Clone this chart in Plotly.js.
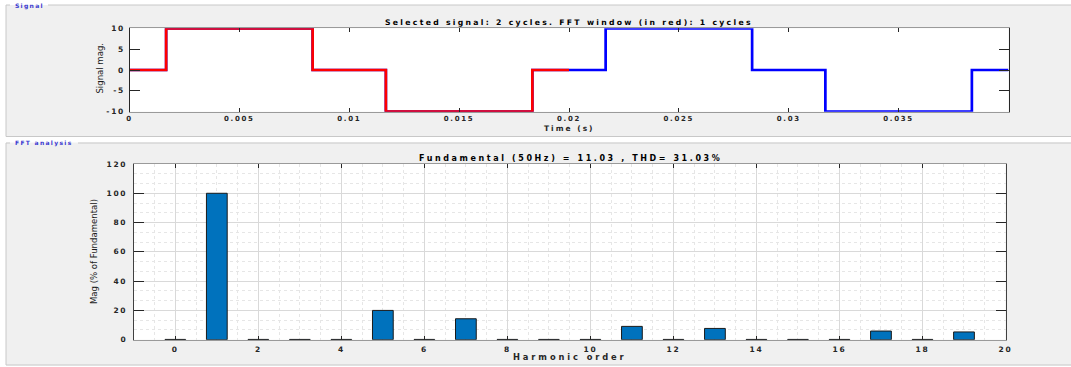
<!DOCTYPE html>
<html>
<head>
<meta charset="utf-8">
<script src="https://cdn.plot.ly/plotly-3.0.1.min.js"></script>
<style>
  html, body { margin: 0; padding: 0; background: #ffffff; }
  #chart { width: 1071px; height: 367px; }
  .xtick text, .ytick text, .x2tick text, .y2tick text { letter-spacing: 1.7px; }
</style>
</head>
<body>
<div id="chart"></div>
<script>
// ---- Signal (time domain) ----
const signalTime  = [0, 0.001667, 0.008333, 0.011667, 0.018333, 0.021667, 0.028333, 0.031667, 0.038333, 0.04];
const signalValue = [0, 10, 0, -10, 0, 10, 0, -10, 0, 0];
const fftWindowEnd = 0.02;

const timeTickVals = [0, 0.005, 0.01, 0.015, 0.02, 0.025, 0.03, 0.035];
const timeTickText = ['0', '0.005', '0.01', '0.015', '0.02', '0.025', '0.03', '0.035'];
const sigTickVals  = [-10, -5, 0, 5, 10];
const sigTickText  = ['-10', '-5', '0', '5', '10'];

// ---- FFT analysis ----
const harmonicOrder = [0, 1, 2, 3, 4, 5, 6, 7, 8, 9, 10, 11, 12, 13, 14, 15, 16, 17, 18, 19];
const harmonicMag   = [0.2, 100, 0.2, 0.2, 0.2, 20, 0.2, 14.3, 0.2, 0.2, 0.2, 9.1, 0.2, 7.7, 0.2, 0.2, 0.2, 5.9, 0.2, 5.3];
const harmTickVals  = [0, 2, 4, 6, 8, 10, 12, 14, 16, 18, 20];
const magTickVals   = [0, 20, 40, 60, 80, 100, 120];

const titleTop    = 'Selected signal: 2 cycles. FFT window (in red): 1 cycles';
const titleBottom = 'Fundamental (50Hz) = 11.03 , THD= 31.03%';

// red window = part of the signal up to fftWindowEnd
const winT = [], winV = [];
for (let i = 0; i < signalTime.length; i++) {
  if (signalTime[i] < fftWindowEnd) { winT.push(signalTime[i]); winV.push(signalValue[i]); }
}
winT.push(fftWindowEnd); winV.push(winV[winV.length - 1]);

const W = 1071, H = 367;
const px = v => v / W;
const py = v => 1 - v / H;

const tickFont = { family: 'DejaVu Sans, sans-serif', size: 7.5, weight: 'bold', color: '#262626' };
const topXTickFont = { family: 'DejaVu Sans, sans-serif', size: 7, weight: 'bold', color: '#262626' };
const narrowFont = { family: 'Liberation Sans Narrow, DejaVu Sans Condensed, Arial Narrow, sans-serif', size: 9.5, color: '#1a1a1a' };

const traces = [
  { type: 'scatter', mode: 'lines', x: signalTime, y: signalValue, line: { color: '#0000FF', width: 2.7, shape: 'hv' },
    xaxis: 'x', yaxis: 'y', hoverinfo: 'skip' },
  { type: 'scatter', mode: 'lines', x: winT, y: winV, line: { color: '#FF0000', width: 2.7, shape: 'hv' },
    xaxis: 'x', yaxis: 'y', hoverinfo: 'skip' },
  { type: 'bar', x: harmonicOrder, y: harmonicMag, width: 0.5,
    marker: { color: '#0072BD', line: { color: '#1a1a1a', width: 1 } },
    xaxis: 'x2', yaxis: 'y2', hoverinfo: 'skip' }
];

const gridMajor = '#D9D9D9';
const layout = {
  width: W, height: H,
  margin: { l: 0, r: 0, t: 0, b: 0 },
  paper_bgcolor: '#F0F0F0',
  plot_bgcolor: '#FFFFFF',
  showlegend: false,
  xaxis: {
    domain: [px(129.5), px(1008.5)], anchor: 'y', range: [0, 0.04],
    tickvals: timeTickVals, ticktext: timeTickText,
    ticks: 'inside', ticklen: 4, tickcolor: '#262626', tickwidth: 1,
    showline: true, linecolor: '#9A9A9A', linewidth: 1, mirror: 'ticks',
    showgrid: false, zeroline: false, tickfont: topXTickFont, ticklabelstandoff: 0
  },
  yaxis: {
    domain: [py(111.7), py(28.3)], anchor: 'x', range: [-10, 10],
    tickvals: sigTickVals, ticktext: sigTickText,
    ticks: 'inside', ticklen: 10, tickcolor: '#262626', tickwidth: 1,
    showline: true, linecolor: '#262626', linewidth: 1, mirror: 'ticks',
    showgrid: false, zeroline: false, tickfont: tickFont, ticklabelstandoff: 2
  },
  xaxis2: {
    domain: [px(133.8), px(1005.5)], anchor: 'y2', range: [-1, 20],
    tickvals: harmTickVals,
    ticks: 'inside', ticklen: 4, tickcolor: '#262626', tickwidth: 1,
    showline: true, linecolor: '#9A9A9A', linewidth: 1, mirror: 'ticks',
    showgrid: true, gridcolor: gridMajor, gridwidth: 1, zeroline: false,
    minor: { dtick: 0.5, tick0: 0, showgrid: true, gridcolor: '#E6E6E6', griddash: 'dot', gridwidth: 1 },
    tickfont: tickFont, ticklabelstandoff: 2
  },
  yaxis2: {
    domain: [py(339.7), py(164)], anchor: 'x2', range: [0, 120],
    tickvals: magTickVals,
    ticks: 'inside', ticklen: 10, tickcolor: '#262626', tickwidth: 1,
    showline: true, linecolor: '#404040', linewidth: 1, mirror: 'ticks',
    showgrid: true, gridcolor: gridMajor, gridwidth: 1, zeroline: false,
    minor: { dtick: 20 / 3, tick0: 0, showgrid: true, gridcolor: '#E6E6E6', griddash: 'dot', gridwidth: 1 },
    tickfont: tickFont, ticklabelstandoff: 4
  },
  shapes: [
    // white surroundings of the panels
    { type: 'rect', xref: 'paper', yref: 'paper', x0: 0, x1: px(6), y0: 0, y1: 1, fillcolor: '#FFFFFF', line: { width: 0 }, layer: 'below' },
    { type: 'rect', xref: 'paper', yref: 'paper', x0: 0, x1: 1, y0: py(5), y1: 1, fillcolor: '#FFFFFF', line: { width: 0 }, layer: 'below' },
    { type: 'rect', xref: 'paper', yref: 'paper', x0: 0, x1: 1, y0: py(142.5), y1: py(137), fillcolor: '#FFFFFF', line: { width: 0 }, layer: 'below' },
    { type: 'rect', xref: 'paper', yref: 'paper', x0: 0, x1: 1, y0: 0, y1: py(365.5), fillcolor: '#FFFFFF', line: { width: 0 }, layer: 'below' },
    // panel borders (Signal)
    { type: 'line', xref: 'paper', yref: 'paper', x0: px(6), x1: px(6), y0: py(136.5), y1: py(5), line: { color: '#C8C8C8', width: 1 } },
    { type: 'line', xref: 'paper', yref: 'paper', x0: px(6), x1: px(10), y0: py(5), y1: py(5), line: { color: '#C8C8C8', width: 1 } },
    { type: 'line', xref: 'paper', yref: 'paper', x0: px(48), x1: 1, y0: py(5), y1: py(5), line: { color: '#C8C8C8', width: 1 } },
    { type: 'line', xref: 'paper', yref: 'paper', x0: px(6), x1: 1, y0: py(136.5), y1: py(136.5), line: { color: '#C8C8C8', width: 1 } },
    // panel borders (FFT analysis)
    { type: 'line', xref: 'paper', yref: 'paper', x0: px(6), x1: px(6), y0: py(365), y1: py(143), line: { color: '#C8C8C8', width: 1 } },
    { type: 'line', xref: 'paper', yref: 'paper', x0: px(6), x1: px(10), y0: py(143), y1: py(143), line: { color: '#C8C8C8', width: 1 } },
    { type: 'line', xref: 'paper', yref: 'paper', x0: px(78), x1: 1, y0: py(143), y1: py(143), line: { color: '#C8C8C8', width: 1 } },
    { type: 'line', xref: 'paper', yref: 'paper', x0: px(6), x1: 1, y0: py(365), y1: py(365), line: { color: '#C8C8C8', width: 1 } }
  ],
  annotations: [
    { xref: 'paper', yref: 'paper', x: px(569), y: py(22.7), xanchor: 'center', yanchor: 'middle', showarrow: false,
      text: '<span style="letter-spacing:2.3px">' + titleTop + '</span>',
      font: { family: 'DejaVu Sans, sans-serif', size: 7.7, weight: 'bold', color: '#000000' } },
    { xref: 'paper', yref: 'paper', x: px(570), y: py(158.5), xanchor: 'center', yanchor: 'middle', showarrow: false,
      text: '<span style="letter-spacing:2.6px">' + titleBottom + '</span>',
      font: { family: 'DejaVu Sans, sans-serif', size: 8, weight: 'bold', color: '#000000' } },
    { xref: 'paper', yref: 'paper', x: px(569), y: py(128), xanchor: 'center', yanchor: 'middle', showarrow: false,
      text: '<span style="letter-spacing:2px">Time (s)</span>',
      font: { family: 'DejaVu Sans, sans-serif', size: 7.5, weight: 'bold', color: '#262626' } },
    { xref: 'paper', yref: 'paper', x: px(570), y: py(356.7), xanchor: 'center', yanchor: 'middle', showarrow: false,
      text: '<span style="letter-spacing:2.9px">Harmonic order</span>',
      font: { family: 'DejaVu Sans, sans-serif', size: 8.3, weight: 'bold', color: '#262626' } },
    { xref: 'paper', yref: 'paper', x: px(99.3), y: py(68.3), xanchor: 'center', yanchor: 'middle', showarrow: false, textangle: -90,
      text: 'Signal mag.', font: narrowFont },
    { xref: 'paper', yref: 'paper', x: px(93.3), y: py(251.8), xanchor: 'center', yanchor: 'middle', showarrow: false, textangle: -90,
      text: 'Mag (% of Fundamental)', font: narrowFont },
    { xref: 'paper', yref: 'paper', x: px(12.5), y: py(6.5), xanchor: 'left', yanchor: 'middle', showarrow: false,
      text: '<span style="letter-spacing:1.3px">Signal</span>',
      font: { family: 'DejaVu Sans, sans-serif', size: 6, weight: 'bold', color: '#3A3AD0' } },
    { xref: 'paper', yref: 'paper', x: px(12.5), y: py(143.5), xanchor: 'left', yanchor: 'middle', showarrow: false,
      text: '<span style="letter-spacing:1.3px">FFT analysis</span>',
      font: { family: 'DejaVu Sans, sans-serif', size: 6, weight: 'bold', color: '#3A3AD0' } }
  ]
};

Plotly.newPlot('chart', traces, layout, { displayModeBar: false, staticPlot: true });
</script>
</body>
</html>
